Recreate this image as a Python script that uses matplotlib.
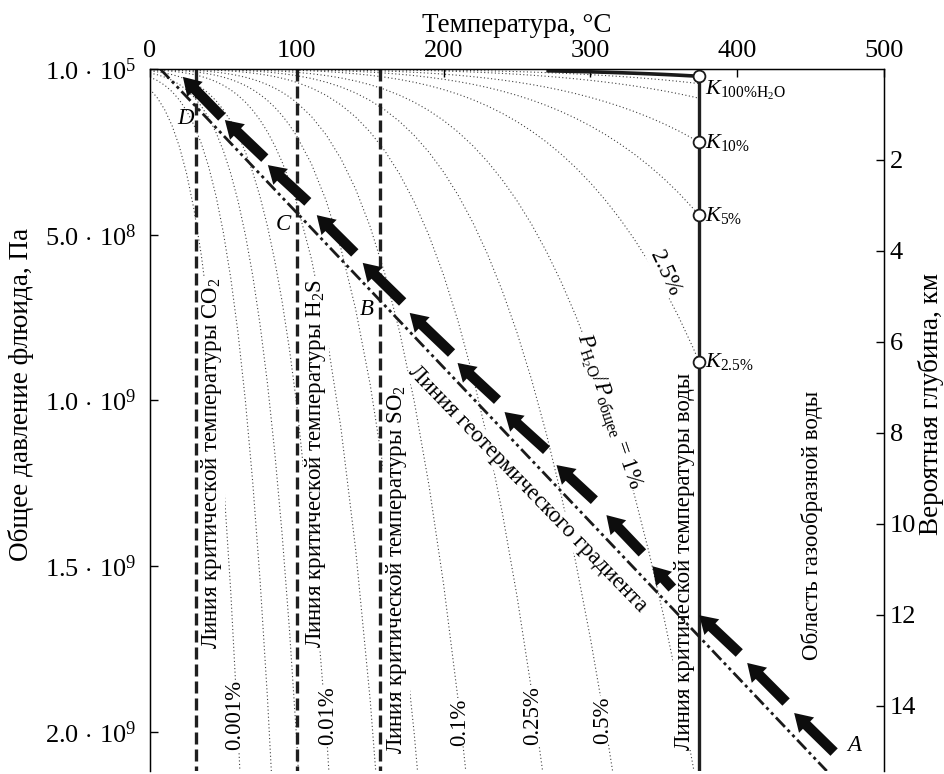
import matplotlib
matplotlib.use('Agg')
import numpy as np
import matplotlib.pyplot as plt

plt.rcParams['font.family'] = ['Liberation Serif', 'DejaVu Serif']
plt.rcParams['mathtext.fontset'] = 'custom'
plt.rcParams['mathtext.rm'] = 'Liberation Serif'
plt.rcParams['mathtext.it'] = 'Liberation Serif:italic'

# water saturation pressure (steam table), T in C, P in Pa
sat_T = [0, 5, 10, 15, 20, 25, 30, 35, 40, 45, 50, 55, 60, 65, 70, 75, 80, 85, 90, 95,
         100, 110, 120, 130, 140, 150, 160, 170, 180, 190, 200, 210, 220, 230, 240,
         250, 260, 270, 280, 290, 300, 310, 320, 330, 340, 350, 360, 370, 374]
sat_P = [611.2, 872.6, 1228.1, 1705.8, 2339.3, 3169.9, 4247, 5629, 7385, 9595,
         12352, 15763, 19946, 25042, 31201, 38595, 47414, 57868, 70182, 84609,
         101418, 143380, 198670, 270280, 361540, 476160, 618230, 792180, 1002800,
         1255200, 1554900, 1907700, 2319600, 2797900, 3347800, 3976200, 4692300,
         5503500, 6416600, 7441600, 8587900, 9865100, 11284000, 12858000, 14600000,
         16529000, 18666000, 21044000, 22064000]

# P_H2O / P_total fractions of the dotted curves
fractions = [0.5, 0.25, 0.1, 0.05, 0.025, 0.01, 0.005, 0.0025, 0.001,
             0.0005, 0.00025, 0.0001, 0.00005, 0.000025, 0.00001]
k_fractions = [1.0, 0.1, 0.05, 0.025]
k_labels = [r'$K_{100\%\mathrm{H_2O}}$', r'$K_{10\%}$', r'$K_{5\%}$', r'$K_{2.5\%}$']

crit_T = [31, 100, 157]
crit_names = ['CO$_2$', 'H$_2$S', 'SO$_2$']
water_crit_T = 374
water_crit_P = 22064000

geo_T = [7, 461]
geo_P = [1e5, 2.118e9]

# process path A -> D (arrow tails and tips)
arrow_T0 = [466.0, 433.3, 401.4, 355.8, 335.4, 302.7, 270.1, 236.7, 205.4, 172.1, 139.5, 107.5, 78.2, 49.0]
arrow_P0 = [2.061e9, 1.910e9, 1.762e9, 1.566e9, 1.460e9, 1.301e9, 1.150e9, 0.999e9, 0.857e9, 0.703e9, 0.555e9, 0.401e9, 0.269e9, 0.145e9]
arrow_T1 = [438.8, 406.8, 374.1, 342.2, 310.9, 276.9, 241.5, 209.5, 176.9, 144.9, 113.6, 80.3, 51.0, 22.4]
arrow_P1 = [1.943e9, 1.792e9, 1.648e9, 1.500e9, 1.346e9, 1.195e9, 1.035e9, 0.887e9, 0.736e9, 0.585e9, 0.441e9, 0.290e9, 0.154e9, 0.024e9]

x_ticks = [0, 100, 200, 300, 400, 500]
p_ticks = [1e5, 5e8, 1e9, 1.5e9, 2e9]
p_ticklabels = [r'$1.0\,\cdot\,10^{5}$', r'$5.0\,\cdot\,10^{8}$', r'$1.0\,\cdot\,10^{9}$',
                r'$1.5\,\cdot\,10^{9}$', r'$2.0\,\cdot\,10^{9}$']
depth_ticks = [2, 4, 6, 8, 10, 12, 14]

T = np.array(sat_T, dtype=float)
Ps = np.array(sat_P, dtype=float)

fig = plt.figure(figsize=(9.45, 7.74), dpi=100)
ax = fig.add_axes([150 / 945, 1 - 771 / 774, 734 / 945, 702 / 774])
ax.set_xlim(0, 500)
ax.set_ylim(2.118e9, 1e5)

# dotted curves P_total = P_sat / x
for f in fractions:
    ax.plot(T, Ps / f, color='0.25', lw=0.8, ls=(0, (1, 2.2)), zorder=1)

# 100 % water curve (thick, near the top)
m = T >= 262
ax.plot(T[m], Ps[m], color='0.1', lw=2.6, zorder=4, solid_capstyle='butt')

# critical temperature lines of CO2, H2S, SO2
for t in crit_T:
    ax.plot([t, t], [1e5, 2.118e9], color='0.12', lw=2.4, ls=(0, (3.6, 1.5)), zorder=2)

# critical temperature of water
ax.plot([water_crit_T, water_crit_T], [water_crit_P, 2.118e9], color='0.12', lw=2.4, zorder=4)

# geothermal gradient
ax.plot(geo_T, geo_P, color='0.1', lw=2.0, ls=(0, (4.7, 1.4, 1.1, 1.4, 1.1, 1.4)), zorder=5)

# arrows
for t0, p0, t1, p1 in zip(arrow_T0, arrow_P0, arrow_T1, arrow_P1):
    ax.annotate('', xy=(t1, p1), xytext=(t0, p0), zorder=6,
                arrowprops=dict(arrowstyle='simple,head_length=1.25,head_width=1.55,tail_width=0.75',
                                fc='0.05', ec='none', shrinkA=0, shrinkB=0, mutation_scale=10))

# K points
kP = [water_crit_P / f for f in k_fractions]
ax.plot([water_crit_T] * len(kP), kP, 'o', ms=8.5, mfc='white', mec='0.1', mew=1.3, zorder=7)
for p, lab, dy in zip(kP, k_labels, [0.42e8, 0, 0, 0]):
    ax.text(water_crit_T + 4, p + dy, lab, fontsize=16, ha='left', va='center', zorder=7)

wb = dict(facecolor='white', edgecolor='none', pad=0.5)
ann = 16.5

# vertical labels
ax.text(42.2, 1.19e9, 'Линия критической температуры ' + crit_names[0], rotation=90,
        fontsize=ann, ha='center', va='center', bbox=wb, zorder=3)
ax.text(113.0, 1.19e9, 'Линия критической температуры ' + crit_names[1], rotation=90,
        fontsize=ann, ha='center', va='center', bbox=wb, zorder=3)
ax.text(168.0, 1.51e9, 'Линия критической температуры ' + crit_names[2], rotation=90,
        fontsize=ann, ha='center', va='center', bbox=wb, zorder=3)
ax.text(364.0, 1.485e9, 'Линия критической температуры воды', rotation=90,
        fontsize=ann, ha='center', va='center', bbox=wb, zorder=3)
ax.text(451.0, 1.376e9, 'Область газообразной воды', rotation=90,
        fontsize=ann, ha='center', va='center', zorder=3)
ax.text(257.0, 1.267e9, 'Линия геотермического градиента', rotation=-46,
        fontsize=ann, ha='center', va='center', bbox=wb, zorder=3, rotation_mode='anchor')

# curve labels
for t, p, s in [(57.8, 1.95e9, '0.001%'), (121.0, 1.95e9, '0.01%'), (211.0, 1.97e9, '0.1%'),
                (260.5, 1.952e9, '0.25%'), (308.0, 1.964e9, '0.5%')]:
    ax.text(t, p, s, rotation=90, fontsize=ann, ha='center', va='center', bbox=wb, zorder=3)
ax.text(351.0, 6.16e8, '2.5%', rotation=-65, fontsize=ann, ha='center', va='center',
        bbox=wb, zorder=3, rotation_mode='anchor')
ax.text(311.6, 1.035e9, r'$P_{\mathrm{H_2O}}/P_{\mathrm{общее}}$ = 1%', rotation=-71,
        fontsize=ann, ha='center', va='center', bbox=wb, zorder=3, rotation_mode='anchor')

# point letters
for t, p, s in [(24.5, 1.48e8, 'D'), (90.5, 4.68e8, 'C'), (147.6, 7.27e8, 'B'), (479.6, 2.04e9, 'A')]:
    ax.text(t, p, s, fontsize=ann, style='italic', ha='center', va='center', zorder=8)

# axes
ax.xaxis.tick_top()
ax.xaxis.set_label_position('top')
ax.set_xticks(x_ticks)
ax.set_xlabel('Температура, °C', fontsize=19.5, labelpad=6)
ax.set_yticks(p_ticks)
ax.set_yticklabels(p_ticklabels)
ax.set_ylabel('Общее давление флюида, Па', fontsize=19.5)
ax.yaxis.set_label_coords(-0.158, 0.536)
ax.tick_params(direction='in', length=6, width=1, labelsize=19, pad=10)
ax.tick_params(axis='x', pad=5)
ax.spines['bottom'].set_visible(False)
for s in ['top', 'left', 'right']:
    ax.spines[s].set_linewidth(1.0)

ax2 = ax.twinx()
ax2.set_ylim(15.43, 0)
ax2.set_yticks(depth_ticks)
ax2.set_ylabel('Вероятная глубина, км', fontsize=19.5)
ax2.yaxis.set_label_coords(1.047, 0.523)
ax2.tick_params(direction='in', length=6, width=1, labelsize=19, pad=4)
ax2.spines['bottom'].set_visible(False)

fig.savefig('out.png', dpi=100)
